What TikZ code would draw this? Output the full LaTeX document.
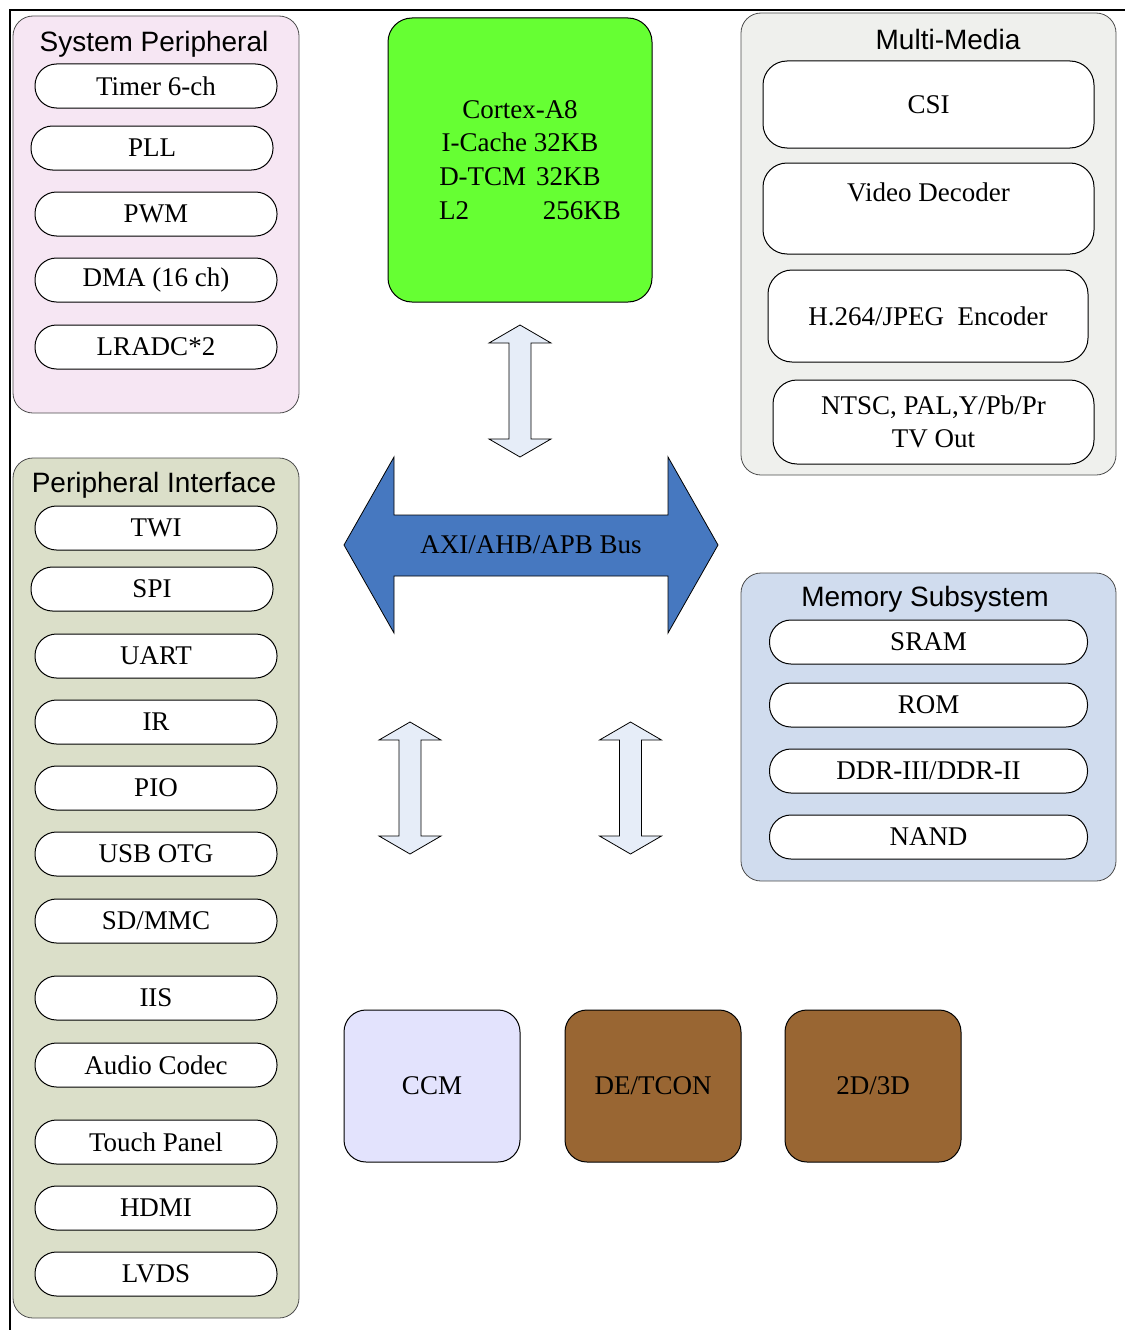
\documentclass[tikz,border=0pt]{standalone}
\usepackage{fontspec}
\setmainfont{Liberation Serif}
\newfontfamily\headfont{Liberation Sans}

\definecolor{sysfill}{RGB}{246,230,243}
\definecolor{cpufill}{RGB}{102,255,51}
\definecolor{mmfill}{RGB}{239,240,237}
\definecolor{pifill}{RGB}{219,223,201}
\definecolor{memfill}{RGB}{208,220,238}
\definecolor{busfill}{RGB}{70,120,192}
\definecolor{linkfill}{RGB}{230,237,248}
\definecolor{ccmfill}{RGB}{227,227,253}
\definecolor{brownfill}{RGB}{153,102,51}

\begin{document}
\begin{tikzpicture}[x=1pt,y=-1pt]
        \tikzstyle{every node}=[font=\fontsize{27}{33}\selectfont, inner sep=0pt]
        \tikzstyle{group}=[draw=black!70, line width=0.8pt, rounded corners=20pt]
        \tikzstyle{title}=[font=\headfont\fontsize{28}{33}\selectfont]
        \tikzstyle{pill}=[draw, line width=1pt, fill=white, rounded corners=21.5pt, minimum width=242pt, minimum height=44pt]
        \tikzstyle{mbox}=[draw, line width=1pt, fill=white, rounded corners=24pt, align=center]
        \tikzstyle{block}=[draw, line width=1pt, rounded corners=22pt, minimum width=176pt, minimum height=152pt]
        \tikzstyle{link}=[draw, line width=0.8pt, fill=linkfill]
        \useasboundingbox (0,0) rectangle (1125,1330);
        \draw[line width=2pt] (10,1330) -- (10,10) -- (1125,10);

        % system peripheral
        \node[group, fill=sysfill, minimum width=286pt, minimum height=397pt] (sysper) at (156,214.5) {};
        \node[title] (sysper-t) at (154,44.5) {System Peripheral};
        \foreach \n/\x/\y/\t in {timer/156/86/Timer 6-ch, pll/152/148/PLL, pwm/156/214/PWM,
                dma/156/280/DMA (16 ch), lradc/156/347/LRADC*2}
            \node[pill] (\n) at (\x,\y) {\t};

        % cpu
        \node[draw, line width=1pt, fill=cpufill, rounded corners=24pt, minimum width=264pt, minimum height=284pt,
              align=center, font=\fontsize{27}{33.7}\selectfont] (cpu) at (520,160)
              {Cortex-A8\\I-Cache 32KB\\D-TCM\hspace{10pt}32KB\\\hspace*{20pt}L2\hspace{74pt}256KB};

        % multi-media
        \node[group, fill=mmfill, minimum width=375pt, minimum height=462pt] (mmedia) at (928.5,244) {};
        \node[title] (mmedia-t) at (948,39) {Multi-Media};
        \node[mbox, minimum width=331pt, minimum height=87pt] (csi) at (928.5,104.5) {CSI};
        \node[mbox, minimum width=331pt, minimum height=91pt] (vdec) at (928.5,208.5) {Video Decoder\\~};
        \node[mbox, minimum width=320pt, minimum height=92pt] (venc) at (928,316) {H.264/JPEG\ \ Encoder};
        \node[mbox, minimum width=321pt, minimum height=84pt] (tvout) at (933.5,422) {NTSC, PAL,Y/Pb/Pr\\TV Out};

        % peripheral interface
        \node[group, fill=pifill, minimum width=286pt, minimum height=860pt] (perif) at (156,888) {};
        \node[title] (perif-t) at (154,485.5) {Peripheral Interface};
        \foreach \n/\x/\y/\t in {twi/156/528/TWI, spi/152/589/SPI, uart/156/656/UART, ir/156/722/IR,
                pio/156/788/PIO, usb/156/854/USB OTG, mmc/156/921/{SD/MMC}, iis/156/998/IIS,
                codec/156/1065/Audio Codec, tp/156/1142/Touch Panel, hdmi/156/1208/HDMI, lvds/156/1274/LVDS}
            \node[pill] (\n) at (\x,\y) {\t};

        % memory subsystem
        \node[group, fill=memfill, minimum width=375pt, minimum height=308pt] (memsub) at (928.5,727) {};
        \node[title] (memsub-t) at (925,599.5) {Memory Subsystem};
        \foreach \n/\y/\t in {sram/642/SRAM, rom/705/ROM, ddr/771/{DDR-III/DDR-II}, nand/837/NAND}
            \node[pill, minimum width=318pt] (\n) at (928.5,\y) {\t};

        % bus
        \draw[line width=0.8pt, fill=busfill] (344,545) -- (394,457) -- (394,515) -- (668,515) -- (668,457)
              -- (718,545) -- (668,633) -- (668,576) -- (394,576) -- (394,633) -- cycle;
        \node (bus) at (531,545) {AXI/AHB/APB Bus};
        \foreach \cx/\t/\b in {520/325/457, 410/722/854, 630.5/722/854}
            \draw[link] (\cx,\t) -- (\cx+31,\t+18) -- (\cx+11,\t+18) -- (\cx+11,\b-18) -- (\cx+31,\b-18)
                  -- (\cx,\b) -- (\cx-31,\b-18) -- (\cx-11,\b-18) -- (\cx-11,\t+18) -- (\cx-31,\t+18) -- cycle;

        % bottom blocks
        \node[block, fill=ccmfill] (ccm) at (432,1086) {CCM};
        \node[block, fill=brownfill] (detcon) at (653,1086) {DE/TCON};
        \node[block, fill=brownfill] (gpu) at (873,1086) {2D/3D};
\end{tikzpicture}
\end{document}
